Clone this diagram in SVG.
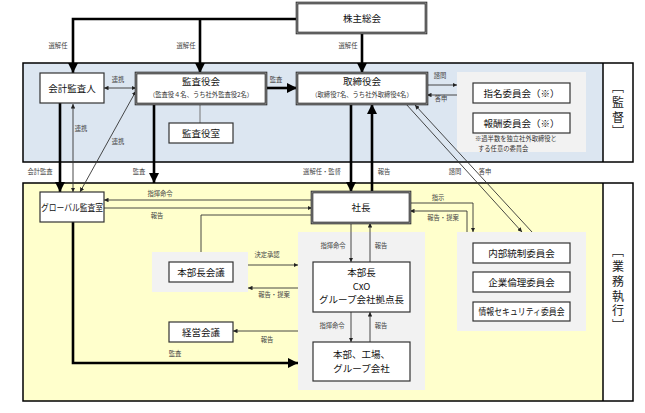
<svg xmlns="http://www.w3.org/2000/svg" width="645" height="413" viewBox="0 0 645 413">
<style>
text{font-family:"Noto Sans CJK JP","Noto Sans CJK SC",sans-serif;}
.bx{fill:#fff;stroke:#333;stroke-width:1.2;}
.dbo{fill:#fff;stroke:#222;stroke-width:2.6;}
.dbi{fill:none;stroke:#999;stroke-width:1;}
.t{font-size:9.5px;fill:#111;text-anchor:middle;}
.s{font-size:6.3px;fill:#333;text-anchor:middle;}
.lb{font-size:6.3px;fill:#444;text-anchor:middle;}
.note{font-size:6.3px;fill:#333;}
.thk{fill:none;stroke:#000;stroke-width:2.6;}
.thn{fill:none;stroke:#333;stroke-width:0.9;}
.vt{font-size:12px;fill:#222;text-anchor:middle;writing-mode:vertical-rl;}
</style>
<defs>
<marker id="ah" viewBox="0 0 10 10" refX="10" refY="5" markerWidth="4.5" markerHeight="4.5" orient="auto-start-reverse" markerUnits="userSpaceOnUse"><path d="M0,0L10,5L0,10z" fill="#222"/></marker>
<marker id="AH" viewBox="0 0 10 10" refX="10" refY="5" markerWidth="10" markerHeight="11" orient="auto-start-reverse" markerUnits="userSpaceOnUse"><path d="M0,0L10,5L0,10z" fill="#000"/></marker>
</defs>
<rect width="645" height="413" fill="#fff"/>

<g id="band-supervision">
<rect x="23" y="63" width="580" height="99" fill="#dce6f1"/>
<rect x="603" y="63" width="30" height="99" fill="#fff"/>
<rect x="23" y="63" width="610" height="99" fill="none" stroke="#000" stroke-width="1.5"/>
<line x1="603" y1="63" x2="603" y2="162" stroke="#000" stroke-width="1.5"/>
<text class="vt" x="618" y="111" style="letter-spacing:2.7px">［監督］</text>
</g>
<g id="band-execution">
<rect x="23" y="183" width="580" height="218" fill="#ffffcc"/>
<rect x="603" y="183" width="30" height="218" fill="#fff"/>
<rect x="23" y="183" width="610" height="218" fill="none" stroke="#000" stroke-width="1.5"/>
<line x1="603" y1="183" x2="603" y2="401" stroke="#000" stroke-width="1.5"/>
<text class="vt" x="618" y="290" style="letter-spacing:2.8px">［業務執行］</text>
</g>

<g id="areas">
<rect x="457" y="72" width="129" height="80" fill="#f2f2f2"/>
<rect x="152" y="252" width="96" height="40" fill="#f2f2f2"/>
<rect x="298" y="232" width="127" height="158" fill="#f2f2f2"/>
<rect x="457" y="232" width="129" height="99" fill="#f2f2f2"/>
</g>

<g id="connectors">
<polyline class="thk" points="297,19 73,19 73,73" marker-end="url(#AH)"/>
<line class="thk" x1="200" y1="19" x2="200" y2="73" marker-end="url(#AH)"/>
<line class="thk" x1="362" y1="33" x2="362" y2="73" marker-end="url(#AH)"/>
<line class="thk" x1="266" y1="88" x2="297" y2="88" marker-end="url(#AH)"/>
<line class="thk" x1="60" y1="103" x2="60" y2="192" marker-end="url(#AH)"/>
<line class="thk" x1="154" y1="104" x2="154" y2="183" marker-end="url(#AH)"/>
<line class="thk" x1="351" y1="104" x2="351" y2="192" marker-end="url(#AH)"/>
<line class="thk" x1="372" y1="192" x2="372" y2="104" marker-end="url(#AH)"/>
<polyline class="thk" points="73,222 73,363 298,363" marker-end="url(#AH)"/>
<line x1="200" y1="104" x2="200" y2="123" stroke="#777" stroke-width="1"/>

<line class="thn" x1="104" y1="88" x2="136" y2="88" marker-start="url(#ah)" marker-end="url(#ah)"/>
<line class="thn" x1="73" y1="104" x2="73" y2="192" marker-start="url(#ah)" marker-end="url(#ah)"/>
<line class="thn" x1="80" y1="192" x2="136" y2="91" marker-start="url(#ah)" marker-end="url(#ah)"/>
<line class="thn" x1="427" y1="85" x2="457" y2="85" marker-end="url(#ah)"/>
<line class="thn" x1="457" y1="95" x2="427" y2="95" marker-end="url(#ah)"/>
<line class="thn" x1="406" y1="104" x2="522" y2="232" marker-end="url(#ah)"/>
<line class="thn" x1="532" y1="232" x2="415" y2="105" marker-end="url(#ah)"/>
<line class="thn" x1="312" y1="200" x2="104" y2="200" marker-end="url(#ah)"/>
<line class="thn" x1="104" y1="208" x2="312" y2="208" marker-end="url(#ah)"/>
<polyline class="thn" points="201,252 201,215 312,215"/>
<polyline class="thn" points="410,203 473,203 473,232" marker-end="url(#ah)"/>
<polyline class="thn" points="467,232 467,211 410,211" marker-end="url(#ah)"/>
<line class="thn" x1="351" y1="223" x2="351" y2="262" marker-end="url(#ah)"/>
<line class="thn" x1="370" y1="262" x2="370" y2="223" marker-end="url(#ah)"/>
<line class="thn" x1="248" y1="265" x2="298" y2="265" marker-end="url(#ah)"/>
<line class="thn" x1="298" y1="288" x2="248" y2="288" marker-end="url(#ah)"/>
<line class="thn" x1="351" y1="312" x2="351" y2="342" marker-end="url(#ah)"/>
<line class="thn" x1="370" y1="342" x2="370" y2="312" marker-end="url(#ah)"/>
<line class="thn" x1="298" y1="331" x2="233" y2="331" marker-end="url(#ah)"/>

<g id="connector-labels">
<text class="lb" x="58" y="48">選解任</text>
<text class="lb" x="186" y="48">選解任</text>
<text class="lb" x="348" y="48">選解任</text>
<text class="lb" x="118" y="82">連携</text>
<text class="lb" x="276" y="82">監査</text>
<text class="lb" x="81" y="131">連携</text>
<text class="lb" x="118" y="144">連携</text>
<text class="lb" x="440" y="78">諮問</text>
<text class="lb" x="441" y="101">答申</text>
<text class="lb" x="40" y="174">会計監査</text>
<text class="lb" x="139" y="174">監査</text>
<text class="lb" x="322" y="174">選解任・監督</text>
<text class="lb" x="384" y="174">報告</text>
<text class="lb" x="455" y="174">諮問</text>
<text class="lb" x="485" y="174">答申</text>
<text class="lb" x="160" y="196">指揮命令</text>
<text class="lb" x="157" y="218">報告</text>
<text class="lb" x="438" y="200">指示</text>
<text class="lb" x="443" y="220">報告・提案</text>
<text class="lb" x="333" y="248">指揮命令</text>
<text class="lb" x="381" y="248">報告</text>
<text class="lb" x="267" y="257">決定承認</text>
<text class="lb" x="274" y="297">報告・提案</text>
<text class="lb" x="332" y="328">指揮命令</text>
<text class="lb" x="381" y="328">報告</text>
<text class="lb" x="267" y="342">報告</text>
<text class="lb" x="175" y="356">監査</text>
</g>
</g>

<g id="shareholders">
<rect class="dbo" x="297" y="3" width="129" height="30"/><rect class="dbi" x="297" y="3" width="129" height="30"/>
<text class="t" x="362" y="21.5">株主総会</text>
</g>
<g id="accounting-auditor">
<rect class="bx" x="40" y="73" width="64" height="30"/>
<text class="t" x="72" y="91.5">会計監査人</text>
</g>
<g id="audit-board">
<rect class="dbo" x="136" y="73" width="130" height="31"/><rect class="dbi" x="136" y="73" width="130" height="31"/>
<text class="t" x="201" y="85">監査役会</text>
<text class="s" x="201" y="97">（監査役４名、うち社外監査役2名）</text>
</g>
<g id="audit-office">
<rect class="bx" x="169" y="123" width="64" height="20"/>
<text class="t" x="201" y="136.5">監査役室</text>
</g>
<g id="board">
<rect class="dbo" x="297" y="73" width="130" height="31"/><rect class="dbi" x="297" y="73" width="130" height="31"/>
<text class="t" x="362" y="85">取締役会</text>
<text class="s" x="362" y="97">（取締役7名、うち社外取締役4名）</text>
</g>
<g id="nomination">
<rect class="bx" x="473" y="83" width="97" height="20"/>
<text class="t" x="521.5" y="96.5">指名委員会（※）</text>
</g>
<g id="remuneration">
<rect class="bx" x="473" y="113" width="97" height="20"/>
<text class="t" x="521.5" y="126.5">報酬委員会（※）</text>
<text class="note" x="475" y="141">※過半数を独立社外取締役と</text>
<text class="note" x="478" y="151">する任意の委員会</text>
</g>
<g id="global-audit">
<rect class="bx" x="40" y="192" width="64" height="30"/>
<text class="t" x="72" y="210.5" textLength="62" lengthAdjust="spacingAndGlyphs">グローバル監査室</text>
</g>
<g id="president">
<rect class="dbo" x="312" y="192" width="98" height="31"/><rect class="dbi" x="312" y="192" width="98" height="31"/>
<text class="t" x="361" y="211">社長</text>
</g>
<g id="division-heads-meeting">
<rect class="bx" x="169" y="262" width="64" height="20"/>
<text class="t" x="201" y="275.5">本部長会議</text>
</g>
<g id="management-meeting">
<rect class="bx" x="169" y="322" width="64" height="20"/>
<text class="t" x="201" y="335.5">経営会議</text>
</g>
<g id="division-heads">
<rect class="bx" x="313" y="262" width="97" height="50"/>
<text class="t" x="361.5" y="276">本部長</text>
<text class="t" x="361.5" y="289.5">CxO</text>
<text class="t" x="361.5" y="303">グループ会社拠点長</text>
</g>
<g id="divisions">
<rect class="bx" x="313" y="342" width="97" height="39"/>
<text class="t" x="361.5" y="358">本部、工場、</text>
<text class="t" x="361.5" y="371.5">グループ会社</text>
</g>
<g id="internal-control">
<rect class="bx" x="473" y="243" width="97" height="20"/>
<text class="t" x="521.5" y="256.5">内部統制委員会</text>
</g>
<g id="ethics">
<rect class="bx" x="473" y="272" width="97" height="20"/>
<text class="t" x="521.5" y="285.5">企業倫理委員会</text>
</g>
<g id="infosec">
<rect class="bx" x="473" y="302" width="97" height="19"/>
<text class="t" x="521.5" y="315" textLength="86" lengthAdjust="spacingAndGlyphs">情報セキュリティ委員会</text>
</g>
</svg>
